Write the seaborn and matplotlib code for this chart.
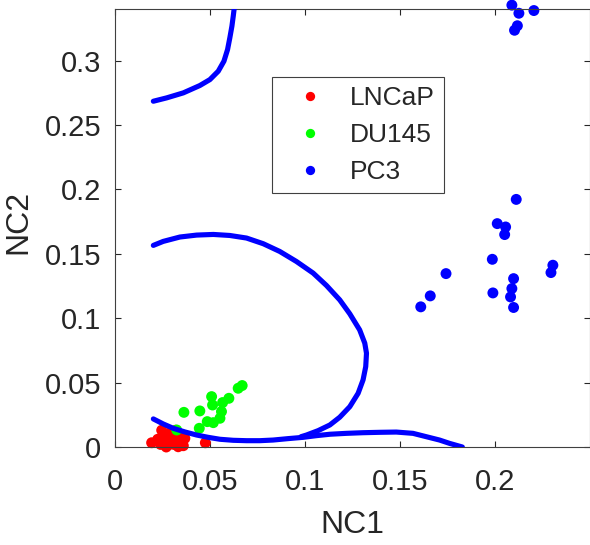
import pandas as pd
import matplotlib
matplotlib.use('Agg')
import matplotlib.pyplot as plt
import seaborn as sns

# cell line samples projected on the first two components
lncap_x = [0.0193, 0.0246, 0.0263, 0.0280, 0.0298, 0.0316, 0.0333, 0.0350, 0.0368, 0.0476,
           0.0270, 0.0320, 0.0225, 0.0290, 0.0310, 0.0345, 0.0240, 0.0360]
lncap_y = [0.0033, 0.0130, 0.0080, 0.0015, 0.0054, 0.0080, 0.0002, 0.0030, 0.0067, 0.0033,
           0.0000, 0.0130, 0.0060, 0.0110, 0.0020, 0.0080, 0.0020, 0.0010]

du145_x = [0.0363, 0.0447, 0.0444, 0.0509, 0.0514, 0.0567, 0.0600, 0.0486, 0.0518, 0.0553,
           0.0561, 0.0649, 0.0670, 0.0325]
du145_y = [0.0269, 0.0280, 0.0145, 0.0391, 0.0326, 0.0345, 0.0378, 0.0197, 0.0189, 0.0223,
           0.0275, 0.0456, 0.0477, 0.0132]

pc3_x = [0.2114, 0.2014, 0.2058, 0.2053, 0.1988, 0.2307, 0.2297, 0.1744, 0.2100, 0.1661,
         0.1991, 0.2091, 0.2084, 0.1611, 0.2100, 0.2091, 0.2128, 0.2207, 0.2105, 0.2120]
pc3_y = [0.1922, 0.1734, 0.1708, 0.1649, 0.1457, 0.1411, 0.1354, 0.1346, 0.1307, 0.1173,
         0.1196, 0.1230, 0.1165, 0.1088, 0.1083, 0.3430, 0.3367, 0.3388, 0.3235, 0.3270]

# decision boundaries
top_x = [0.0202, 0.0272, 0.0360, 0.0447, 0.0500, 0.0544, 0.0574, 0.0593, 0.0605, 0.0616,
         0.0623, 0.0628, 0.0631]
top_y = [0.2684, 0.2710, 0.2749, 0.2806, 0.2852, 0.2917, 0.2995, 0.3085, 0.3176, 0.3267,
         0.3344, 0.3404, 0.3450]

loop_x = [0.0202, 0.0254, 0.0342, 0.0430, 0.0518, 0.0605, 0.0693, 0.0781, 0.0868, 0.0956,
          0.1044, 0.1114, 0.1184, 0.1237, 0.1289, 0.1316, 0.1325, 0.1321, 0.1307, 0.1281,
          0.1237, 0.1184, 0.1132, 0.1070, 0.1009, 0.0980]
loop_y = [0.1565, 0.1596, 0.1630, 0.1645, 0.1650, 0.1642, 0.1622, 0.1578, 0.1518, 0.1440,
          0.1350, 0.1254, 0.1142, 0.1034, 0.0909, 0.0806, 0.0728, 0.0624, 0.0521, 0.0417,
          0.0313, 0.0231, 0.0171, 0.0127, 0.0093, 0.0080]

low_x = [0.0202, 0.0254, 0.0307, 0.0368, 0.0430, 0.0491, 0.0553, 0.0623, 0.0693, 0.0763,
         0.0833, 0.0912, 0.0991, 0.1061, 0.1132, 0.1219, 0.1307, 0.1395, 0.1482, 0.1570,
         0.1640, 0.1710, 0.1763, 0.1830]
low_y = [0.0218, 0.0179, 0.0145, 0.0117, 0.0093, 0.0075, 0.0060, 0.0052, 0.0049, 0.0049,
         0.0054, 0.0065, 0.0075, 0.0088, 0.0099, 0.0106, 0.0111, 0.0114, 0.0116, 0.0106,
         0.0080, 0.0054, 0.0028, 0.0000]

x_ticks = [0, 0.05, 0.1, 0.15, 0.2]
x_tick_labels = ['0', '0.05', '0.1', '0.15', '0.2']
y_ticks = [0, 0.05, 0.1, 0.15, 0.2, 0.25, 0.3]
y_tick_labels = ['0', '0.05', '0.1', '0.15', '0.2', '0.25', '0.3']

df = pd.DataFrame({
    'NC1': lncap_x + du145_x + pc3_x,
    'NC2': lncap_y + du145_y + pc3_y,
    'cell': ['LNCaP'] * len(lncap_x) + ['DU145'] * len(du145_x) + ['PC3'] * len(pc3_x),
})

sns.set_theme(style='white')
plt.rcParams['font.family'] = ['Liberation Sans', 'DejaVu Sans']

fig = plt.figure(figsize=(5.9, 5.45), dpi=100)
ax = fig.add_axes([115 / 590, 98 / 545, 474.5 / 590, 438 / 545])

palette = {'LNCaP': '#ff0000', 'DU145': '#00ff00', 'PC3': '#0000ff'}
sns.scatterplot(data=df, x='NC1', y='NC2', hue='cell', palette=palette, s=62,
                linewidth=0, ax=ax, clip_on=False, zorder=2)

for cx, cy in [(top_x, top_y), (loop_x, loop_y), (low_x, low_y)]:
    sns.lineplot(x=cx, y=cy, sort=False, estimator=None, color='#0000ff', lw=3.7,
                 ax=ax, zorder=3, solid_capstyle='round', solid_joinstyle='round')

ax.set_xlim(0, 0.25)
ax.set_ylim(0, 0.34)
ax.set_xticks(x_ticks)
ax.set_xticklabels(x_tick_labels)
ax.set_yticks(y_ticks)
ax.set_yticklabels(y_tick_labels)
ax.tick_params(direction='in', length=4.5, width=0.8, colors='#262626', labelsize=21,
               top=True, right=True, bottom=True, left=True)
ax.tick_params(axis='x', pad=15)
ax.tick_params(axis='y', pad=10)
for sp in ax.spines.values():
    sp.set_color('#404040')
    sp.set_linewidth(0.8)

ax.set_xlabel('NC1', fontsize=23, color='#262626')
ax.set_ylabel('NC2', fontsize=23, color='#262626')
ax.xaxis.set_label_coords(0.5, -0.143)
ax.yaxis.set_label_coords(-0.172, 0.514)

handles, labels = ax.get_legend_handles_labels()
leg = ax.legend(handles, labels, loc='upper left', bbox_to_anchor=(0.3305, 0.845),
                fontsize=19, frameon=True, fancybox=False, framealpha=1,
                edgecolor='#404040', borderpad=0.34, handlelength=2.25,
                handletextpad=0.36, labelspacing=0.5, markerscale=0.85,
                borderaxespad=0)
leg.get_frame().set_linewidth(0.8)

fig.savefig('out.png', dpi=100)
